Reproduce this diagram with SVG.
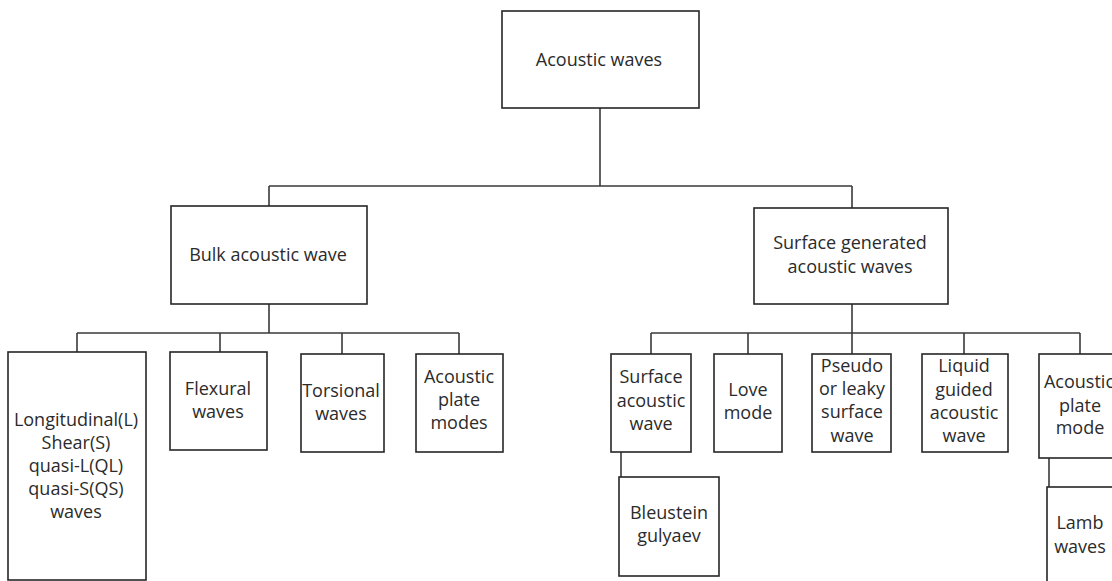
<svg xmlns="http://www.w3.org/2000/svg" width="1112" height="581" viewBox="0 0 1112 581">
<style>
.box{fill:#fff;stroke:#262626;stroke-width:1.6}
.con{fill:none;stroke:#3a3a3a;stroke-width:1.6}
text{font-family:"Open Sans","Noto Sans","Liberation Sans",sans-serif;font-size:18px;fill:#2b2b2b;text-anchor:middle}
</style>
<rect width="1112" height="581" fill="#fff"/>
<g id="connectors">
<path class="con" d="M600,108V186M269,186H852M269,186V206M852,186V208"/>
<path class="con" d="M269,304V333M77,333H459M77,333V352M220,333V352M342,333V354M459,333V354"/>
<path class="con" d="M852,304V333M651,333H1080M651,333V354M748,333V354M852,333V354M964,333V354M1080,333V354"/>
<path class="con" d="M621,452V477M1049,458V487"/>
</g>
<g id="acoustic-waves"><rect class="box" x="502" y="11" width="197" height="97"/><text x="599" y="66">Acoustic waves</text></g>
<g id="bulk"><rect class="box" x="171" y="206" width="196" height="98"/><text x="268" y="261">Bulk acoustic wave</text></g>
<g id="surface-generated"><rect class="box" x="754" y="208" width="194" height="96"/><text x="850" y="249">Surface generated</text><text x="850" y="273">acoustic waves</text></g>
<g id="longitudinal"><rect class="box" x="8" y="352" width="138" height="228"/><text x="76" y="426">Longitudinal(L)</text><text x="76" y="449">Shear(S)</text><text x="76" y="472">quasi-L(QL)</text><text x="76" y="495">quasi-S(QS)</text><text x="76" y="518">waves</text></g>
<g id="flexural"><rect class="box" x="170" y="352" width="97" height="98"/><text x="218" y="395">Flexural</text><text x="218" y="418">waves</text></g>
<g id="torsional"><rect class="box" x="301" y="354" width="83" height="98"/><text x="341" y="397">Torsional</text><text x="341" y="420">waves</text></g>
<g id="acoustic-plate-modes"><rect class="box" x="416" y="354" width="87" height="98"/><text x="459" y="383">Acoustic</text><text x="459" y="406">plate</text><text x="459" y="429">modes</text></g>
<g id="saw"><rect class="box" x="611" y="354" width="80" height="98"/><text x="651" y="383">Surface</text><text x="651" y="407">acoustic</text><text x="651" y="430">wave</text></g>
<g id="love"><rect class="box" x="714" y="354" width="68" height="98"/><text x="748" y="396">Love</text><text x="748" y="419">mode</text></g>
<g id="pseudo"><rect class="box" x="812" y="354" width="79" height="98"/><text x="852" y="372">Pseudo</text><text x="852" y="395">or leaky</text><text x="852" y="418">surface</text><text x="852" y="442">wave</text></g>
<g id="liquid"><rect class="box" x="922" y="354" width="86" height="98"/><text x="964" y="372">Liquid</text><text x="964" y="396">guided</text><text x="964" y="419">acoustic</text><text x="964" y="442">wave</text></g>
<g id="acoustic-plate-mode"><rect class="box" x="1039" y="354" width="95" height="104"/><text x="1079" y="388">Acoustic</text><text x="1080" y="412">plate</text><text x="1080" y="434">mode</text></g>
<g id="bleustein"><rect class="box" x="619" y="477" width="100" height="99"/><text x="669" y="519">Bleustein</text><text x="669" y="542">gulyaev</text></g>
<g id="lamb"><rect class="box" x="1047" y="487" width="95" height="110"/><text x="1080" y="529">Lamb</text><text x="1080" y="553">waves</text></g>
</svg>
